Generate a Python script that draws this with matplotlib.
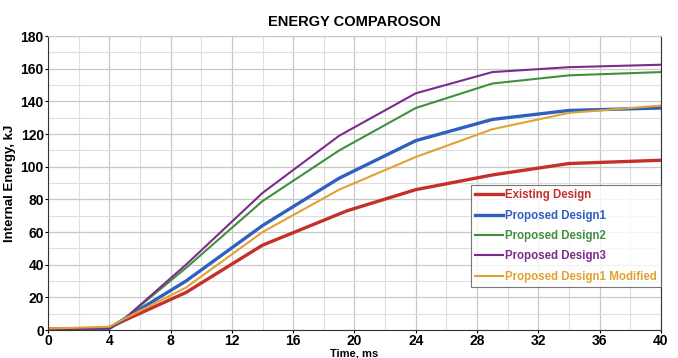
import matplotlib.pyplot as plt
from matplotlib.ticker import MultipleLocator

# Data
t_red = [0, 3, 4, 5, 9, 14, 19.5, 24, 29, 34, 40]
existing = [0.5, 1, 1.5, 6, 23, 52, 73, 86, 95, 102, 104]

t = [0, 4, 5, 9, 14, 19, 24, 29, 34, 40]
design1 = [0.5, 1, 7, 30, 64, 93, 116, 129, 134.5, 136]
design2 = [0.5, 1, 7, 38, 79, 110, 136, 151, 156, 158]
design3 = [0.5, 1, 7, 40, 84, 119, 145, 158, 161, 162.5]
design1_mod = [1, 2, 7, 26, 60, 86, 106, 123, 133, 137.5]

labels = ['Existing Design', 'Proposed Design1', 'Proposed Design2',
          'Proposed Design3', 'Proposed Design1 Modified']
colors = ['#c4302b', '#2f5fbf', '#3f8f3f', '#7b2b8b', '#e0a232']

plt.rcParams['font.family'] = ['Liberation Sans', 'DejaVu Sans']
plt.rcParams['font.weight'] = 'bold'

fig = plt.figure(figsize=(6.78, 3.58), dpi=100)
ax = fig.add_axes([0.0708, 0.078, 0.904, 0.821])

series = [(t_red, existing, 2.4), (t, design1, 2.4), (t, design2, 1.5),
          (t, design3, 1.5), (t, design1_mod, 1.5)]
for (x, y, lw), lab, c in zip(series, labels, colors):
    ax.plot(x, y, color=c, lw=lw, label=lab)

ax.set_xlim(0, 40)
ax.set_ylim(0, 180)
ax.xaxis.set_major_locator(MultipleLocator(4))
ax.xaxis.set_minor_locator(MultipleLocator(2))
ax.yaxis.set_major_locator(MultipleLocator(20))
ax.yaxis.set_minor_locator(MultipleLocator(10))
ax.grid(which='major', color='#c8c8c8', lw=0.9)
ax.grid(which='minor', color='#dedede', lw=0.8)
ax.tick_params(which='major', labelsize=10, length=2.5, width=0.8, pad=0.5)
ax.tick_params(which='minor', length=0)
for lbl in ax.get_xticklabels() + ax.get_yticklabels():
    lbl.set_fontweight('bold')

for s in ['left', 'bottom', 'right']:
    ax.spines[s].set_color('#333333')
ax.spines['top'].set_color('#c8c8c8')

ax.set_title('ENERGY COMPAROSON', fontsize=10.5, fontweight='bold', pad=7)
ax.set_ylabel('Internal Energy, kJ', fontsize=9.5, fontweight='bold', labelpad=3)
ax.set_xlabel('Time, ms', fontsize=8, fontweight='bold', labelpad=0.5)

leg = ax.legend(loc='lower right', bbox_to_anchor=(1.0, 0.146), fontsize=8.3,
                frameon=True, fancybox=False, borderpad=0.4, labelspacing=0.72,
                handlelength=2.4, handletextpad=0.15, borderaxespad=0)
leg.get_frame().set_edgecolor('#555555')
leg.get_frame().set_linewidth(0.8)
for txt, c in zip(leg.get_texts(), colors):
    txt.set_color(c)
    txt.set_fontweight('bold')

fig.savefig('out.png', dpi=100)
